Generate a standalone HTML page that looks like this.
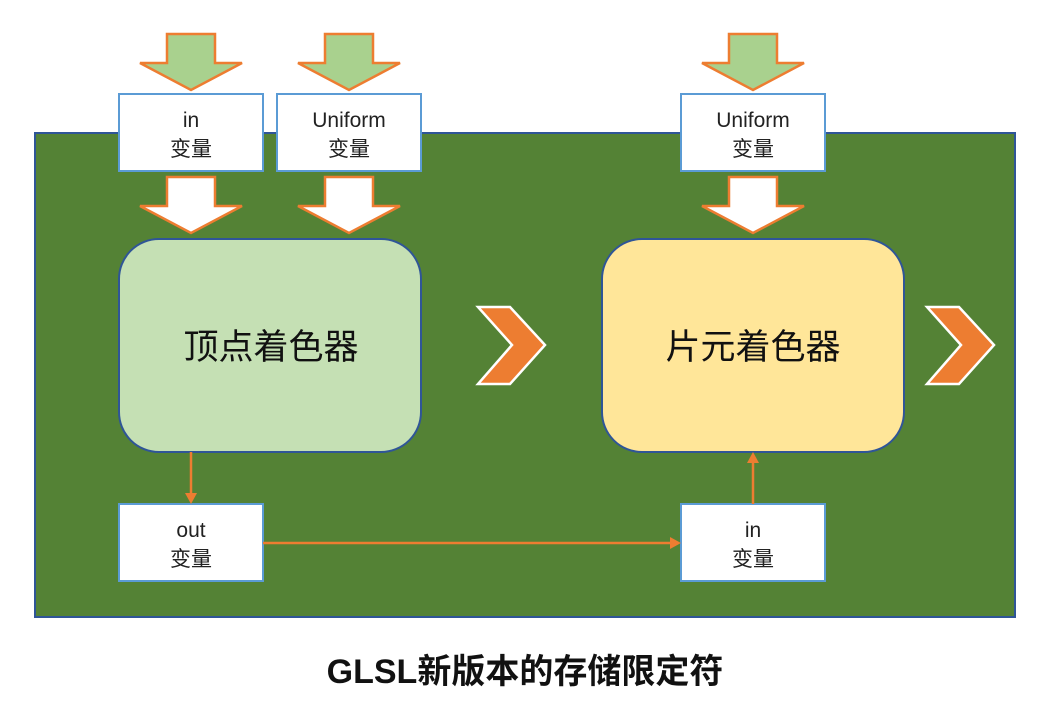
<!DOCTYPE html>
<html><head><meta charset="utf-8"><style>
body{margin:0;background:#fff;width:1049px;height:711px;overflow:hidden;font-family:"Liberation Sans","Noto Sans CJK SC",sans-serif}
</style></head><body>
<svg width="1049" height="711" xmlns="http://www.w3.org/2000/svg" font-family="'Liberation Sans','Noto Sans CJK SC',sans-serif">
<defs>
<g id="ga"><polygon points="-24,0 24,0 24,29 51,29 0,56 -51,29 -24,29" stroke="#ed7d31" stroke-width="2.5"/></g>
</defs>
<rect x="35" y="133" width="980" height="484" fill="#548235" stroke="#2f5597" stroke-width="2"/>
<use href="#ga" x="191" y="34" fill="#a9d18e"/>
<use href="#ga" x="349" y="34" fill="#a9d18e"/>
<use href="#ga" x="753" y="34" fill="#a9d18e"/>
<use href="#ga" x="191" y="177" fill="#fff"/>
<use href="#ga" x="349" y="177" fill="#fff"/>
<use href="#ga" x="753" y="177" fill="#fff"/>
<g fill="#fff" stroke="#5b9bd5" stroke-width="2">
<rect x="119" y="94" width="144" height="77"/>
<rect x="277" y="94" width="144" height="77"/>
<rect x="681" y="94" width="144" height="77"/>
<rect x="119" y="504" width="144" height="77"/>
<rect x="681" y="504" width="144" height="77"/>
</g>
<g font-size="21" fill="#222" text-anchor="middle">
<text x="191" y="127">in</text><text x="191" y="156">变量</text>
<text x="349" y="127">Uniform</text><text x="349" y="156">变量</text>
<text x="753" y="127">Uniform</text><text x="753" y="156">变量</text>
<text x="191" y="537">out</text><text x="191" y="566">变量</text>
<text x="753" y="537">in</text><text x="753" y="566">变量</text>
</g>
<rect x="119" y="239" width="302" height="213" rx="40" fill="#c5e0b4" stroke="#2f5597" stroke-width="2"/>
<rect x="602" y="239" width="302" height="213" rx="40" fill="#ffe699" stroke="#2f5597" stroke-width="2"/>
<g font-size="35" fill="#111" text-anchor="middle">
<text x="271" y="359">顶点着色器</text>
<text x="753" y="359">片元着色器</text>
</g>
<g fill="#ed7d31" stroke="#fff" stroke-width="2.5">
<polygon points="478,307 510,307 545,345 510,384 478,384 512,345"/>
<polygon points="927,307 959,307 994,345 959,384 927,384 961,345"/>
</g>
<g stroke="#ed7d31" stroke-width="2.5" fill="none">
<line x1="191" y1="452" x2="191" y2="494"/>
<line x1="263" y1="543" x2="671" y2="543"/>
<line x1="753" y1="504" x2="753" y2="462"/>
</g>
<g fill="#ed7d31">
<polygon points="185,493 197,493 191,504"/>
<polygon points="670,537 670,549 681,543"/>
<polygon points="747,463 759,463 753,452"/>
</g>
<text x="525" y="683" font-size="34" font-weight="bold" text-anchor="middle" fill="#111">GLSL新版本的存储限定符</text>
</svg>
</body></html>
